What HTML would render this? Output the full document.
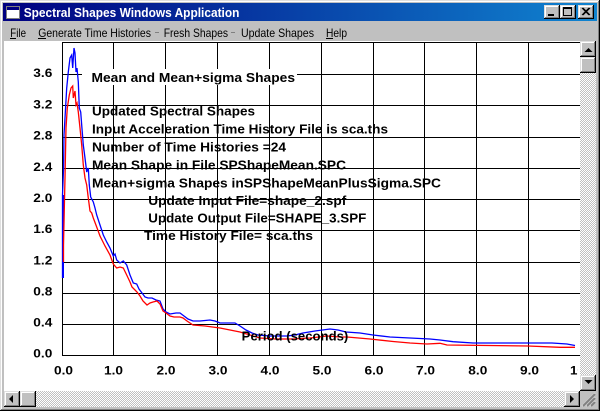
<!DOCTYPE html>
<html><head><meta charset="utf-8">
<style>
html,body{margin:0;padding:0;background:#c0c0c0;}
#win{position:absolute;left:0;top:0;width:600px;height:411px;overflow:hidden;background:#c0c0c0;
 box-shadow:inset -1px -1px #000,inset 1px 1px #dfdfdf,inset -2px -2px #808080,inset 2px 2px #fff;}
.abs{position:absolute;}
.btn{position:absolute;background:#c0c0c0;box-shadow:inset -1px -1px #000,inset 1px 1px #dfdfdf,inset -2px -2px #808080,inset 2px 2px #fff;}
.chk{position:absolute;background-color:#c0c0c0;background-image:repeating-conic-gradient(#fff 0 25%,#c0c0c0 0 50%);background-size:2px 2px;}
</style></head>
<body>
<div id="win">
 <div class="abs" style="left:3px;top:3px;width:594px;height:18px;background:linear-gradient(to right,#000080,#1084d0);"></div>
 <div class="btn" style="left:544px;top:5px;width:16px;height:14px;"></div>
 <div class="btn" style="left:560px;top:5px;width:16px;height:14px;"></div>
 <div class="btn" style="left:578px;top:5px;width:16px;height:14px;"></div>
 <div class="abs" style="left:4px;top:41px;width:576px;height:350px;background:#fff;"></div>
 <!-- vertical scrollbar -->
 <div class="chk" style="left:580px;top:73px;width:16px;height:302px;"></div>
 <div class="btn" style="left:580px;top:41px;width:16px;height:16px;"></div>
 <div class="btn" style="left:580px;top:57px;width:16px;height:16px;"></div>
 <div class="btn" style="left:580px;top:375px;width:16px;height:16px;"></div>
 <!-- horizontal scrollbar -->
 <div class="chk" style="left:36px;top:391px;width:528px;height:16px;"></div>
 <div class="btn" style="left:4px;top:391px;width:16px;height:16px;"></div>
 <div class="btn" style="left:20px;top:391px;width:16px;height:16px;"></div>
 <div class="btn" style="left:564px;top:391px;width:16px;height:16px;"></div>
 <div class="abs" style="left:580px;top:391px;width:16px;height:16px;background:#c0c0c0;"></div>

<svg width="600" height="411" style="position:absolute;left:0;top:0" font-family="'Liberation Sans', Arial, sans-serif">
 <defs>
  <clipPath id="cl"><rect x="4" y="41" width="576" height="350"/></clipPath>
  <clipPath id="cl2"><rect x="4" y="41" width="574" height="350"/></clipPath>
 </defs>

 <!-- title icon -->
 <rect x="6.5" y="6.5" width="13" height="12" fill="#fff" stroke="#808080"/>
 <rect x="7" y="7" width="12" height="3" fill="#000080"/>
 <text x="23.7" y="17" font-size="13" font-weight="bold" fill="#fff" textLength="215.7" lengthAdjust="spacingAndGlyphs">Spectral Shapes Windows Application</text>

 <!-- title buttons glyphs -->
 <rect x="548" y="14" width="6" height="2" fill="#000"/>
 <rect x="563.5" y="7.5" width="8" height="8" fill="none" stroke="#000"/>
 <rect x="563" y="8" width="9" height="1" fill="#000"/>
 <path d="M582 8 L589 15 M583 8 L590 15 M589 8 L582 15 M590 8 L583 15" stroke="#000" stroke-width="1"/>

 <!-- menu -->
 <g font-size="12" fill="#000">
  <text x="10.3" y="37" textLength="15.7" lengthAdjust="spacingAndGlyphs">File</text>
  <text x="38.2" y="37" textLength="112.8" lengthAdjust="spacingAndGlyphs">Generate Time Histories</text>
  <text x="163.7" y="37" textLength="64.3" lengthAdjust="spacingAndGlyphs">Fresh Shapes</text>
  <text x="241" y="37" textLength="73" lengthAdjust="spacingAndGlyphs">Update Shapes</text>
  <text x="326" y="37" textLength="21" lengthAdjust="spacingAndGlyphs">Help</text>
 </g>
 <rect x="10" y="38" width="6" height="1" fill="#000"/>
 <rect x="38" y="38" width="8" height="1" fill="#000"/>
 <rect x="326" y="38" width="7" height="1" fill="#000"/>
 <rect x="155" y="32" width="4" height="1" fill="#808080"/>
 <rect x="231" y="32" width="4" height="1" fill="#808080"/>

 <!-- scrollbar arrows -->
 <polygon points="584.5,52 592.5,52 588.5,48" fill="#000"/>
 <polygon points="584.5,380 592.5,380 588.5,384" fill="#000"/>
 <polygon points="13,395 13,403 9,399" fill="#000"/>
 <polygon points="570,395 570,403 574,399" fill="#000"/>
 <!-- size grip -->
 <path d="M582 406 L595 393 M586 406 L595 397 M590 406 L595 401" stroke="#fff" stroke-width="1"/>
 <path d="M583 406 L595 394 M587 406 L595 398 M591 406 L595 402" stroke="#808080" stroke-width="2"/>

 <g clip-path="url(#cl)">
  <!-- grid -->
  <path d="M62.5 42 V355.5 M113.5 42 V355.5 M165.5 42 V355.5 M217.5 42 V355.5 M269.5 42 V355.5 M321.5 42 V355.5 M373.5 42 V355.5 M424.5 42 V355.5 M476.5 42 V355.5 M528.5 42 V355.5
   M62 42.5 H580 M62 74.5 H580 M62 105.5 H580 M62 137.5 H580 M62 168.5 H580 M62 199.5 H580 M62 230.5 H580 M62 262.5 H580 M62 293.5 H580 M62 324.5 H580 M62 355.5 H580"
   stroke="#000" stroke-width="1" fill="none"/>

  <!-- curves -->
  <rect x="62" y="195" width="2" height="83" fill="#0000ff"/>
  <polyline fill="none" stroke="#0000ff" stroke-width="1.3" points="62.5,278 62.5,195 63.5,170 64,135 65,118 66.7,88 68.3,72 70,58 71.7,55 72.7,68 74,48 75,53 76,72 77,68 78.3,82 79.3,108 80.7,112 81.7,125 83.3,145 85,158 86.7,172 88.3,168 89.3,185 90.7,197 93.3,202 95,208 96.7,215 100,225 103.3,235 106.7,242 110,248 113.3,256 115,254 116.7,260 120,263 123.3,261 126.7,265 130,275 133.3,283 136.7,284 139,289 142,293 145,297 148,298 152,298 156,300 160,301 163,309 166,312 170,314 176,313 180,313 184,316 188,319 193,321 200,321 210,320 215,321 220,323 235,323 240,326 246,330 252,333 258,335 270,336 287,336 295,335 303,333 315,331 330,329 338,330 346,332 360,333 373,335 390,337 410,338 430,339 440,340 453,341.7 473,343 552,343 567,344 575,345.5"/>
  <polyline fill="none" stroke="#ff0000" stroke-width="1.3" points="63.5,262 63.5,245 64.5,200 65,178 66,128 67.3,108 69.3,95 71,88 72.7,86 73.3,98 75,91 76,105 77,103 78.3,112 80,128 81.7,145 83.3,165 85,178 86.7,185 88.3,198 90,211 91.7,213 93.3,218 96.7,227 100,236 105,246 110,255 113.3,264 116.7,268 120,267 123.3,268 126.7,275 130,282 132,287 135,290 137,292 140,296 143,301 147,305 150,303 153,302 157,301 160,304 163,311 166,313 170,316 174,317 180,317 183,318 187,321 193,325 205,326 220,328 240,332 260,338 275,339 293,339 310,338 327,336 340,337 347,337 370,339 393,341.5 410,343 427,344 440,343.3 447,345 528,346 560,347.3 575,347.3"/>

  <!-- chart text -->
  <rect x="82" y="69" width="215" height="16" fill="#fff"/>
  <g font-size="13" font-weight="bold" fill="#000">
   <text x="91.5" y="82" textLength="203.5" lengthAdjust="spacingAndGlyphs">Mean and Mean+sigma Shapes</text>
   <text x="92" y="115.3" textLength="163" lengthAdjust="spacingAndGlyphs">Updated Spectral Shapes</text>
   <text x="92" y="133.3" textLength="296" lengthAdjust="spacingAndGlyphs">Input Acceleration Time History File is sca.ths</text>
   <text x="92" y="151.3" textLength="194" lengthAdjust="spacingAndGlyphs">Number of Time Histories =24</text>
   <text x="92" y="169.3" textLength="254" lengthAdjust="spacingAndGlyphs">Mean Shape in File SPShapeMean.SPC</text>
   <text x="92" y="187.3" textLength="349" lengthAdjust="spacingAndGlyphs">Mean+sigma Shapes inSPShapeMeanPlusSigma.SPC</text>
   <text x="148.3" y="205" textLength="198" lengthAdjust="spacingAndGlyphs">Update Input File=shape_2.spf</text>
   <text x="148.3" y="222.7" textLength="218" lengthAdjust="spacingAndGlyphs">Update Output File=SHAPE_3.SPF</text>
   <text x="144" y="240" textLength="169" lengthAdjust="spacingAndGlyphs">Time History File= sca.ths</text>
   <text x="241.7" y="340.7" textLength="106.6" lengthAdjust="spacingAndGlyphs">Period (seconds)</text>
  </g>

  <!-- axis labels -->
  <g font-size="12" font-weight="bold" fill="#000" text-anchor="end">
   <text x="52.3" y="77" textLength="19" lengthAdjust="spacingAndGlyphs">3.6</text>
   <text x="52.3" y="108.5" textLength="19" lengthAdjust="spacingAndGlyphs">3.2</text>
   <text x="52.3" y="139.5" textLength="19" lengthAdjust="spacingAndGlyphs">2.8</text>
   <text x="52.3" y="171" textLength="19" lengthAdjust="spacingAndGlyphs">2.4</text>
   <text x="52.3" y="202" textLength="19" lengthAdjust="spacingAndGlyphs">2.0</text>
   <text x="52.3" y="233" textLength="19" lengthAdjust="spacingAndGlyphs">1.6</text>
   <text x="52.3" y="264.5" textLength="19" lengthAdjust="spacingAndGlyphs">1.2</text>
   <text x="52.3" y="295.5" textLength="19" lengthAdjust="spacingAndGlyphs">0.8</text>
   <text x="52.3" y="326.5" textLength="19" lengthAdjust="spacingAndGlyphs">0.4</text>
   <text x="52.3" y="357.5" textLength="19" lengthAdjust="spacingAndGlyphs">0.0</text>
  </g>
  <g font-size="12" font-weight="bold" fill="#000">
   <text x="54" y="374.5" textLength="19" lengthAdjust="spacingAndGlyphs">0.0</text>
   <text x="104" y="374.5" textLength="19" lengthAdjust="spacingAndGlyphs">1.0</text>
   <text x="156.5" y="374.5" textLength="19" lengthAdjust="spacingAndGlyphs">2.0</text>
   <text x="208.5" y="374.5" textLength="19" lengthAdjust="spacingAndGlyphs">3.0</text>
   <text x="260.5" y="374.5" textLength="19" lengthAdjust="spacingAndGlyphs">4.0</text>
   <text x="312.5" y="374.5" textLength="19" lengthAdjust="spacingAndGlyphs">5.0</text>
   <text x="364.5" y="374.5" textLength="19" lengthAdjust="spacingAndGlyphs">6.0</text>
   <text x="416" y="374.5" textLength="19" lengthAdjust="spacingAndGlyphs">7.0</text>
   <text x="468.3" y="374.5" textLength="19" lengthAdjust="spacingAndGlyphs">8.0</text>
   <text x="520" y="374.5" textLength="19" lengthAdjust="spacingAndGlyphs">9.0</text>
  </g>
 </g>
 <g clip-path="url(#cl2)">
  <text x="570" y="374.5" font-size="12" font-weight="bold" fill="#000" textLength="26" lengthAdjust="spacingAndGlyphs">10.0</text>
 </g>
</svg>
</div>
</body></html>
